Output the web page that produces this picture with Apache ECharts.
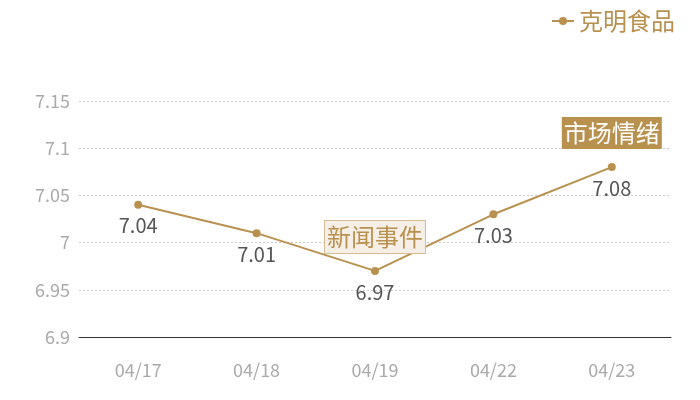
<!DOCTYPE html>
<html><head><meta charset="utf-8">
<script src="https://cdn.jsdelivr.net/npm/echarts@6/dist/echarts.min.js"></script>
<style>html,body{margin:0;padding:0;background:#fff}#c{width:700px;height:400px}</style>
</head><body><div id="c"></div>
<script>
const categories = ['04/17','04/18','04/19','04/22','04/23'];
const values = [7.04, 7.01, 6.97, 7.03, 7.08];
const seriesName = '克明食品';
const tags = [
  {name:'新闻事件', cat:'04/19', val:6.97, style:'light'},
  {name:'市场情绪', cat:'04/23', val:7.08, style:'dark'}
];
const gold = '#B8914F';
const font = '"Microsoft YaHei","Noto Sans CJK SC",sans-serif';
const chart = echarts.init(document.getElementById('c'));
chart.setOption({
  animation:false,
  textStyle:{fontFamily:font},
  legend:{right:20, top:4, itemWidth:22, itemHeight:10, itemGap:10,
    textStyle:{color:gold, fontSize:24, fontFamily:font}, data:[seriesName]},
  grid:{left:79, right:29, top:101, bottom:63},
  xAxis:{type:'category', data:categories, boundaryGap:true,
    axisLine:{lineStyle:{color:'#333'}}, axisTick:{show:false},
    axisLabel:{color:'#aaa', fontSize:18, margin:24, fontFamily:font}},
  yAxis:{type:'value', min:6.9, max:7.15, interval:0.05,
    axisLine:{show:false}, axisTick:{show:false},
    axisLabel:{color:'#aaa', fontSize:18, margin:9, fontFamily:font},
    splitLine:{lineStyle:{color:'#ccc', type:[2,2]}}},
  series:[{
    name:seriesName, type:'line', data:values, symbol:'circle', symbolSize:8,
    itemStyle:{color:gold}, lineStyle:{color:gold, width:2},
    label:{show:true, position:'bottom', distance:7, color:'#555', fontSize:20, fontFamily:font},
    markPoint:{symbol:'circle', symbolSize:0,
      data: tags.map(t=>({coord:[t.cat, t.val], value:t.name,
        label:{show:true, formatter:t.name, offset:[0,-34], fontSize:24, fontFamily:font,
          padding:[5,2,3,2],
          color: t.style==='dark' ? '#fff' : gold,
          backgroundColor: t.style==='dark' ? gold : '#F5EFE7',
          borderColor: t.style==='dark' ? gold : '#D6BC92',
          borderWidth: t.style==='dark' ? 0 : 1}}))
    }
  }]
});
</script></body></html>
